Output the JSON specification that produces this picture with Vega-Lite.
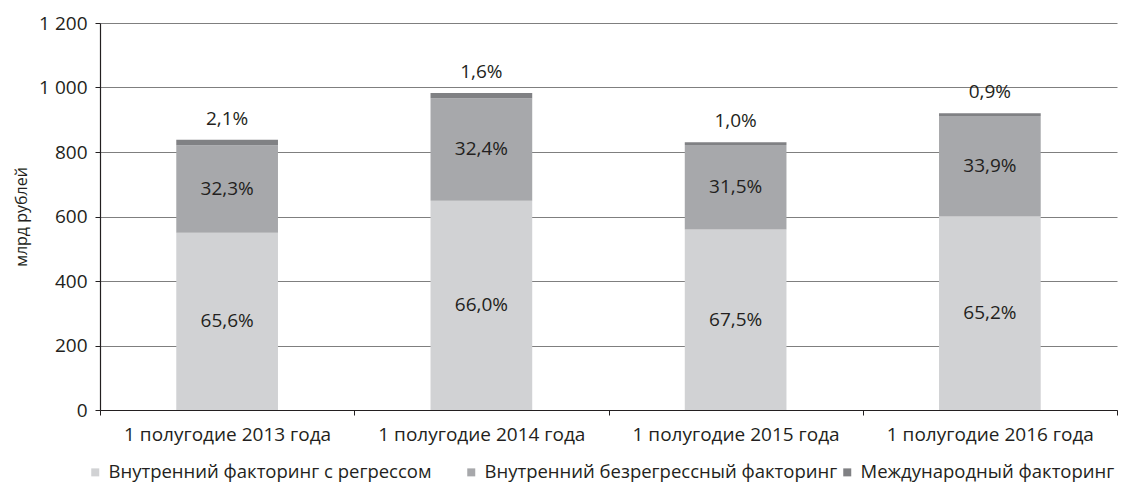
{
  "$schema": "https://vega.github.io/schema/vega-lite/v6.json",
  "width": 1017,
  "height": 387,
  "autosize": "none",
  "padding": {"left": 100, "top": 23, "right": 25, "bottom": 76},
  "config": {
    "font": "Open Sans",
    "view": {"stroke": null},
    "axis": {"labelColor": "#231f20", "titleColor": "#231f20", "labelFont": "Open Sans", "titleFont": "Open Sans"},
    "legend": {"labelFont": "Open Sans"}
  },
  "data": {
    "values": [
      {"period": "1 полугодие 2013 года", "type": "Внутренний факторинг с регрессом", "ord": 1, "value": 550, "pct": "65,6%"},
      {"period": "1 полугодие 2013 года", "type": "Внутренний безрегрессный факторинг", "ord": 2, "value": 271, "pct": "32,3%"},
      {"period": "1 полугодие 2013 года", "type": "Международный факторинг", "ord": 3, "value": 17, "pct": "2,1%"},
      {"period": "1 полугодие 2014 года", "type": "Внутренний факторинг с регрессом", "ord": 1, "value": 649, "pct": "66,0%"},
      {"period": "1 полугодие 2014 года", "type": "Внутренний безрегрессный факторинг", "ord": 2, "value": 318, "pct": "32,4%"},
      {"period": "1 полугодие 2014 года", "type": "Международный факторинг", "ord": 3, "value": 16, "pct": "1,6%"},
      {"period": "1 полугодие 2015 года", "type": "Внутренний факторинг с регрессом", "ord": 1, "value": 560, "pct": "67,5%"},
      {"period": "1 полугодие 2015 года", "type": "Внутренний безрегрессный факторинг", "ord": 2, "value": 262, "pct": "31,5%"},
      {"period": "1 полугодие 2015 года", "type": "Международный факторинг", "ord": 3, "value": 8, "pct": "1,0%"},
      {"period": "1 полугодие 2016 года", "type": "Внутренний факторинг с регрессом", "ord": 1, "value": 600, "pct": "65,2%"},
      {"period": "1 полугодие 2016 года", "type": "Внутренний безрегрессный факторинг", "ord": 2, "value": 312, "pct": "33,9%"},
      {"period": "1 полугодие 2016 года", "type": "Международный факторинг", "ord": 3, "value": 8, "pct": "0,9%"}
    ]
  },
  "transform": [
    {"stack": "value", "groupby": ["period"], "sort": [{"field": "ord", "order": "ascending"}], "as": ["v0", "v1"]},
    {"calculate": "(datum.v0 + datum.v1) / 2", "as": "vmid"}
  ],
  "encoding": {
    "x": {
      "field": "period", "type": "nominal", "sort": null,
      "scale": {"paddingInner": 0, "paddingOuter": 0},
      "axis": {
        "title": null, "labelAngle": 0, "labelFontSize": 19, "labelPadding": 10, "labelLimit": 400,
        "tickBand": "extent", "tickSize": 5, "tickColor": "#231f20",
        "domainColor": "#231f20", "domainWidth": 1.2, "grid": false
      }
    }
  },
  "layer": [
    {
      "mark": {"type": "bar", "width": {"band": 0.4}},
      "encoding": {
        "y": {
          "field": "v0", "type": "quantitative",
          "scale": {"domain": [0, 1200]},
          "axis": {
            "title": "млрд рублей", "titleFontSize": 16, "titleFontWeight": "normal", "titlePadding": 9,
            "values": [0, 200, 400, 600, 800, 1000, 1200],
            "labelExpr": "replace(format(datum.value, ','), ',', ' ')",
            "labelFontSize": 19, "labelPadding": 8, "tickSize": 5, "tickColor": "#231f20",
            "domainColor": "#231f20", "domainWidth": 1.2,
            "grid": true, "gridColor": "#7f7f7f", "gridWidth": 1
          }
        },
        "y2": {"field": "v1"},
        "color": {
          "field": "type", "type": "nominal",
          "scale": {
            "domain": ["Внутренний факторинг с регрессом", "Внутренний безрегрессный факторинг", "Международный факторинг"],
            "range": ["#d1d2d4", "#a7a8ab", "#808184"]
          },
          "legend": {
            "title": null, "orient": "none", "legendX": -14, "legendY": 440,
            "direction": "horizontal", "columns": 3, "gridAlign": "all", "columnPadding": 0,
            "symbolType": "square", "symbolSize": 64, "symbolStrokeWidth": 0, "labelOffset": 4,
            "labelFontSize": 18.5, "labelColor": "#231f20", "labelLimit": 500
          }
        }
      }
    },
    {
      "transform": [{"filter": "datum.ord < 3"}],
      "mark": {"type": "text", "fontSize": 19, "color": "#231f20"},
      "encoding": {
        "y": {"field": "vmid", "type": "quantitative"},
        "text": {"field": "pct"}
      }
    },
    {
      "transform": [{"filter": "datum.ord == 3"}],
      "mark": {"type": "text", "fontSize": 19, "color": "#231f20", "dy": -21},
      "encoding": {
        "y": {"field": "v1", "type": "quantitative"},
        "text": {"field": "pct"}
      }
    }
  ]
}
